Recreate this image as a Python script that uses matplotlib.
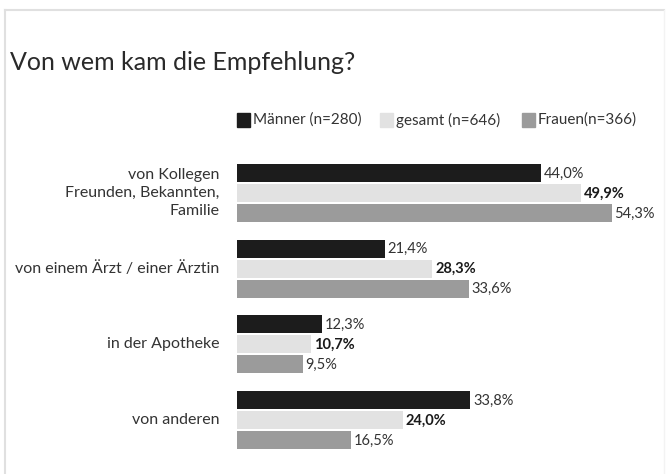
import matplotlib
matplotlib.use("Agg")
import matplotlib.pyplot as plt
from matplotlib.patches import Rectangle
from matplotlib.lines import Line2D

# Daten aus der Grafik
categories = ["von Kollegen\nFreunden, Bekannten,\nFamilie",
              "von einem Ärzt / einer Ärztin",
              "in der Apotheke",
              "von anderen"]
series_names = ["Männer (n=280)", "gesamt (n=646)", "Frauen(n=366)"]
maenner = [44.0, 21.4, 12.3, 33.8]
gesamt = [49.9, 28.3, 10.7, 24.0]
frauen = [54.3, 33.6, 9.5, 16.5]

colors = ["#1c1c1c", "#e2e2e2", "#9b9b9b"]
text_color = "#333333"
font = "Lato"

W, H = 666, 474
fig = plt.figure(figsize=(W / 100, H / 100), dpi=100)
fig.patch.set_facecolor("white")

# frame lines (pixel coordinates, origin top-left)
def px(x, y):
    return x / W, 1 - y / H

fig.add_artist(Line2D([px(5, 0)[0], px(664, 0)[0]], [px(0, 10)[1]] * 2,
                      color="#e0e0e0", lw=1.5))
fig.add_artist(Line2D([px(5, 0)[0]] * 2, [px(0, 10)[1], 0],
                      color="#e0e0e0", lw=1.5))
fig.add_artist(Line2D([px(664, 0)[0]] * 2, [px(0, 10)[1], 0],
                      color="#f3f3f3", lw=1.0))

fig.text(*px(10, 63), "Von wem kam die Empfehlung?", fontsize=18,
         family=font, color="#2a2a2a", va="center", ha="left")

# axes: x from pixel 237, 6.9 px per percent
left, top, bottom = 237, 150, 460
xmax = 60
ax = fig.add_axes([left / W, 1 - bottom / H, xmax * 6.9 / W, (bottom - top) / H])
ax.set_xlim(0, xmax)
ax.set_ylim(bottom, top)
ax.axis("off")

group_start, group_step = 193, 75.7
bar_h, bar_step = 18, 20
all_series = [maenner, gesamt, frauen]

for gi, cat in enumerate(categories):
    yc = group_start + gi * group_step
    for si, vals in enumerate(all_series):
        y = yc + (si - 1) * bar_step
        ax.barh(y, vals[gi], height=bar_h, color=colors[si], edgecolor="none")
        ax.text(vals[gi] + 0.4, y + 0.5, f"{vals[gi]:.1f}%".replace(".", ","),
                va="center", ha="left", fontsize=10.5, family=font,
                color=text_color if si != 1 else "#1a1a1a",
                fontweight="bold" if si == 1 else "normal")
    ax.text(-2.5, yc, cat, ha="right", va="center", fontsize=11.5, family=font,
            color=text_color, linespacing=1.4, multialignment="right")

# legend
leg_y = 120
leg_x = [237, 380, 522]
for si, name in enumerate(series_names):
    x0 = leg_x[si]
    fig.add_artist(Rectangle(px(x0, leg_y + 7), 13 / W, 14 / H,
                             color=colors[si], transform=fig.transFigure))
    fig.text(*px(x0 + 16, leg_y), name, fontsize=11, family=font,
             color=text_color, va="center", ha="left")

fig.savefig("out.png", dpi=100)
